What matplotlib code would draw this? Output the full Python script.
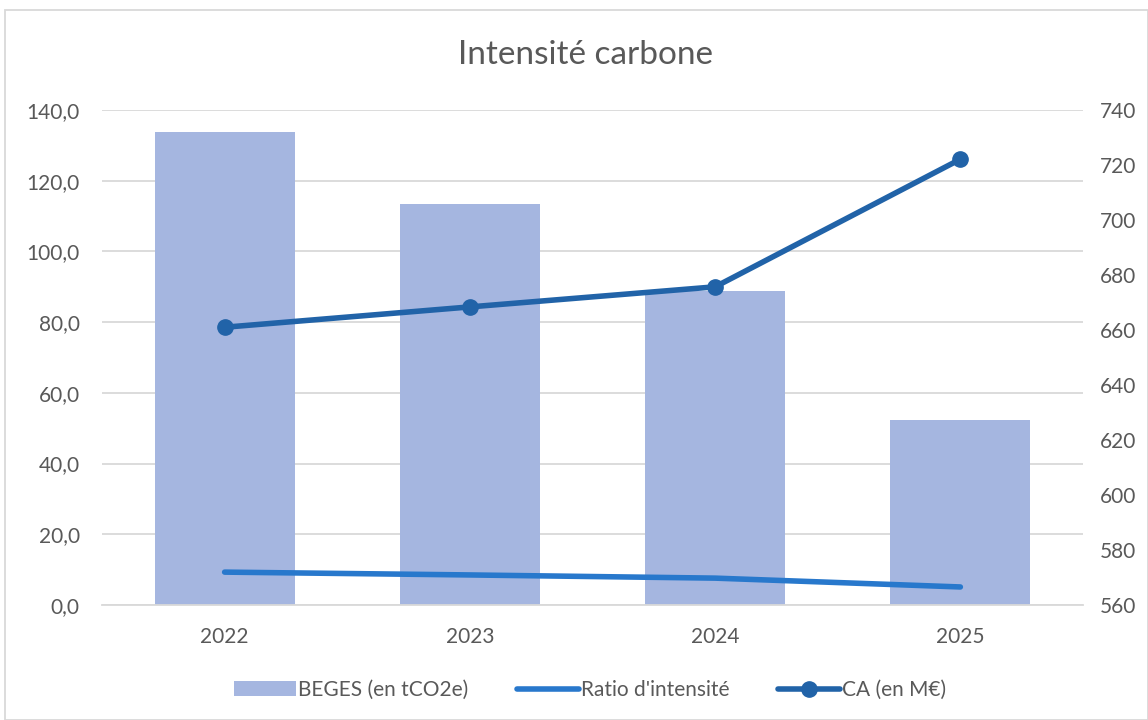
import numpy as np
import matplotlib.pyplot as plt
from matplotlib.ticker import FuncFormatter, MultipleLocator
from matplotlib.patches import Rectangle

# %% data
years = ["2022", "2023", "2024", "2025"]
beges = [133.8, 113.4, 88.9, 52.4]
ratio = [9.3, 8.5, 7.6, 5.1]
ca = [661.0, 668.4, 675.7, 722.1]

plt.rcParams['font.family'] = ['Lato', 'DejaVu Sans']
text_col = "#595959"

# %% figure
fig = plt.figure(figsize=(11.48, 7.2), dpi=100)
ax = fig.add_axes([102 / 1148, 1 - 605 / 720, 981 / 1148, 495 / 720])
ax2 = ax.twinx()

x = np.arange(len(years))
bars = ax.bar(x, beges, width=0.57, color="#A5B6E0", zorder=2, label="BEGES (en tCO2e)")
l1, = ax.plot(x, ratio, color="#2878CC", lw=4, solid_capstyle="round", zorder=3,
              label="Ratio d'intensité")
l2, = ax2.plot(x, ca, color="#2163A8", lw=4, marker="o", ms=11, solid_capstyle="round",
               zorder=4, label="CA (en M€)")

ax.set_xlim(-0.5, 3.5)
ax.set_ylim(0, 140)
ax2.set_ylim(560, 740)
ax.yaxis.set_major_locator(MultipleLocator(20))
ax2.yaxis.set_major_locator(MultipleLocator(20))
ax.yaxis.set_major_formatter(FuncFormatter(lambda v, p: f"{v:.1f}".replace(".", ",")))
ax.set_xticks(x)
ax.set_xticklabels(years)

ax.grid(axis="y", color="#D9D9D9", lw=1.3, zorder=0)
ax.set_axisbelow(True)
for a in (ax, ax2):
    for s in a.spines.values():
        s.set_visible(False)
    a.tick_params(length=0, colors=text_col, labelsize=15)
ax.spines["bottom"].set_visible(True)
ax.spines["bottom"].set_color("#D9D9D9")
ax.spines["bottom"].set_linewidth(1.3)
ax.tick_params(axis="y", pad=16)
ax2.tick_params(axis="y", pad=12)
ax.tick_params(axis="x", pad=16)

fig.suptitle("Intensité carbone", x=585 / 1148, y=1 - 55 / 720, va="center",
             fontsize=24, color=text_col)

fig.legend(handles=[bars, l1, l2], loc="center", bbox_to_anchor=(590 / 1148, 1 - 690 / 720),
           ncol=3, frameon=False, fontsize=15, labelcolor=text_col,
           handlelength=3.0, handletextpad=0.1, columnspacing=2.3)

# chart border
fig.patches.append(Rectangle((5 / 1148, 0), 1 - 5 / 1148, 1 - 10 / 720, transform=fig.transFigure,
                             fill=False, edgecolor="#D9D9D9", lw=1.3))

fig.savefig("out.png", dpi=100)
